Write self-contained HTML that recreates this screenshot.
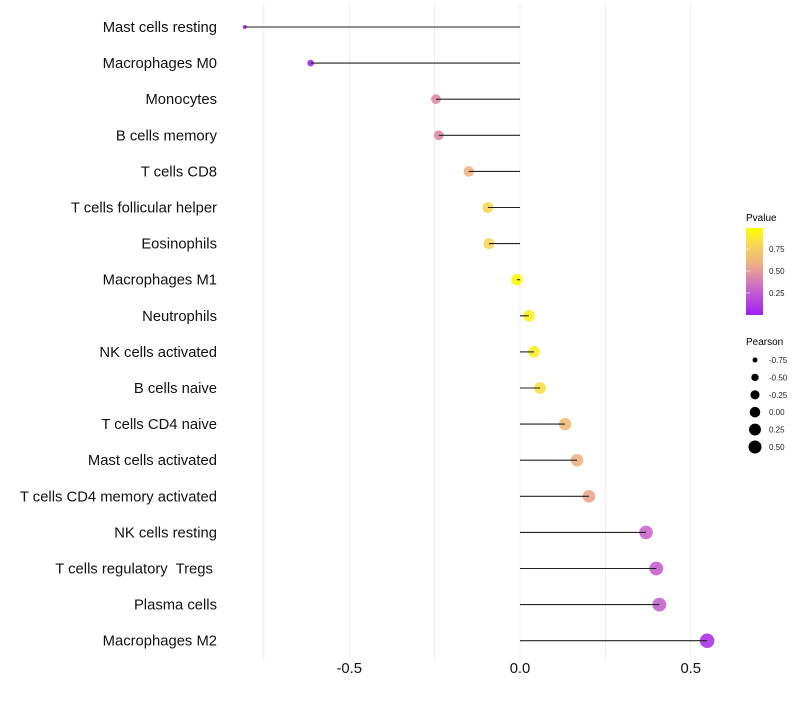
<!DOCTYPE html>
<html><head><meta charset="utf-8"><style>
body{margin:0;background:#fff;}
svg text{font-family:"Liberation Sans",sans-serif;white-space:pre;}
</style></head><body>
<svg id="chart" width="800" height="700">
<g id="grid"></g>
<g id="marks"></g>
<g id="labels"></g>
<g id="xticks"></g>
<g id="legend">
  <text x="746" y="221" font-size="10" fill="#000">Pvalue</text>
  <defs><linearGradient id="pg" x1="0" y1="1" x2="0" y2="0">
    <stop offset="0" stop-color="#a020f0"/><stop offset="0.3" stop-color="#c866cc"/>
    <stop offset="0.45" stop-color="#dc8ca6"/><stop offset="0.6" stop-color="#eeb282"/>
    <stop offset="0.8" stop-color="#f6d65a"/><stop offset="1" stop-color="#ffff00"/></linearGradient></defs>
  <rect x="746" y="228" width="17" height="87" fill="url(#pg)"/>
  <g id="cbticks"></g>
  <text x="746" y="345" font-size="10" fill="#000">Pearson</text>
  <g id="sizeleg"></g>
</g>
</svg>
<script>
const categories=["Mast cells resting","Macrophages M0","Monocytes","B cells memory","T cells CD8","T cells follicular helper","Eosinophils","Macrophages M1","Neutrophils","NK cells activated","B cells naive","T cells CD4 naive","Mast cells activated","T cells CD4 memory activated","NK cells resting","T cells regulatory  Tregs ","Plasma cells","Macrophages M2"];
const pearson=[-0.806,-0.613,-0.246,-0.238,-0.150,-0.094,-0.091,-0.009,0.026,0.041,0.059,0.132,0.167,0.202,0.369,0.399,0.408,0.548];
const pvalue=[0.0,0.03,0.45,0.45,0.6,0.8,0.8,0.98,0.93,0.9,0.85,0.65,0.6,0.55,0.3,0.28,0.28,0.08];
const xTicks=[-0.5,0,0.5];
const xTickLabels=["-0.5","0.0","0.5"];
const gridVals=[-0.75,-0.5,-0.25,0,0.25,0.5];
const cbTicks=[0.25,0.5,0.75];
const cbLabels=["0.25","0.50","0.75"];
const sizeVals=[-0.75,-0.5,-0.25,0,0.25,0.5];
const sizeLabels=["-0.75","-0.50","-0.25","0.00","0.25","0.50"];

const NS="http://www.w3.org/2000/svg";
const x=v=>520+v*341.5;
const y=i=>27+i*36.1;
const r=v=>Math.sqrt(Math.max(1,27.85+28.8*v));
const rp=v=>Math.sqrt(Math.max(3,33+36*v));
const stops=[[0,[160,32,240]],[0.3,[200,102,204]],[0.45,[220,140,166]],[0.6,[238,178,130]],[0.8,[246,214,90]],[1,[255,255,0]]];
function col(p){for(let k=1;k<stops.length;k++){if(p<=stops[k][0]){const a=stops[k-1],b=stops[k],t=(p-a[0])/(b[0]-a[0]);const c=a[1].map((v,j)=>Math.round(v+(b[1][j]-v)*t));return `rgb(${c})`;}}return "rgb(255,255,0)";}
function mk(parent,tag,attrs){const e=document.createElementNS(NS,tag);for(const k in attrs)e.setAttribute(k,attrs[k]);document.getElementById(parent).appendChild(e);return e;}
gridVals.forEach(v=>{const l=mk("grid","line",{x1:x(v),x2:x(v),y1:5,y2:660,stroke:"#ebebeb","stroke-width":1});

});
categories.forEach((c,i)=>{
 const ci=mk("marks","circle",{cx:x(pearson[i]),cy:y(i),r:rp(pearson[i]),fill:col(pvalue[i]),"fill-opacity":0.9});
 
 
 const l=mk("marks","line",{x1:x(0),x2:x(pearson[i]),y1:y(i),y2:y(i),stroke:"#222","stroke-width":1.1});
 
 
 const t=mk("labels","text",{x:217,y:y(i)+5,"text-anchor":"end","font-size":14.8,fill:"#111"});
 t.textContent=c;
 
 
});
xTicks.forEach((v,k)=>{const t=mk("xticks","text",{x:x(v),y:673,"text-anchor":"middle","font-size":14.8,fill:"#111"});t.textContent=xTickLabels[k];

});
cbTicks.forEach((v,k)=>{const yy=315-v*88;
const l=mk("cbticks","line",{x1:746,x2:750,y1:yy,y2:yy,stroke:"#fff","stroke-width":0.6});


const t=mk("cbticks","text",{x:769,y:yy+3,"font-size":8,fill:"#222"});t.textContent=cbLabels[k];

});
sizeVals.forEach((v,k)=>{const yy=360+k*17.4;
const c=mk("sizeleg","circle",{cx:755,cy:yy,r:r(v),fill:"#000"});


const t=mk("sizeleg","text",{x:769,y:yy+3,"font-size":8,fill:"#222"});t.textContent=sizeLabels[k];

});
</script>
</body></html>
